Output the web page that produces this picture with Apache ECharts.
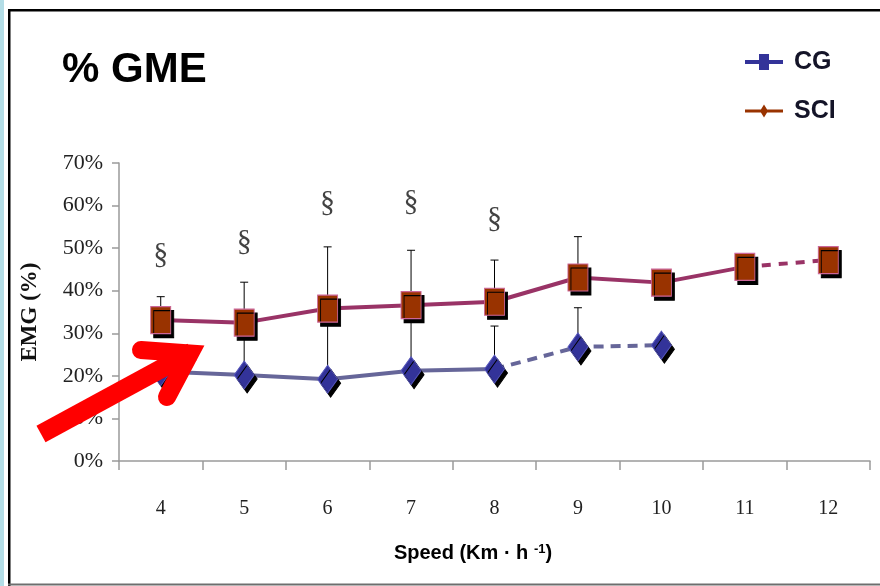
<!DOCTYPE html>
<html>
<head>
<meta charset="utf-8">
<script src="https://cdn.jsdelivr.net/npm/echarts@6/dist/echarts.min.js"></script>
<style>
html,body{margin:0;padding:0;background:#fff;}
#chart{width:880px;height:586px;}
</style>
</head>
<body>
<div id="chart"></div>
<script>
// ---- data ----
const speeds = ['4', '5', '6', '7', '8', '9', '10', '11', '12'];
const cgMean = [21.0, 20.2, 19.2, 21.2, 21.6, 26.8, 27.2, null, null];
const cgSdTop = [null, 31.0, 33.0, 34.0, 31.7, 36.0, null, null, null];
const sciMean = [33.1, 32.5, 35.8, 36.6, 37.4, 43.1, 41.9, 45.6, 47.2];
const sciSdTop = [38.6, 42.0, 50.3, 49.5, 47.2, 52.7, null, null, null];
const sigMarkY = [48.3, 51.5, 60.6, 60.9, 56.9, null, null, null, null];
const cgDashFrom = 4;   // index where CG line becomes dashed
const sciDashFrom = 7;  // index where SCI line becomes dashed

function solidPart(arr, from) { return arr.map((v, i) => i <= from ? v : null); }
function dashedPart(arr, from) { return arr.map((v, i) => i >= from ? v : null); }
function errData(mean, top) {
  const out = [];
  mean.forEach((m, i) => { if (m != null && top[i] != null) out.push([i, m, top[i]]); });
  return out;
}

const chart = echarts.init(document.getElementById('chart'), null, {renderer: 'canvas'});

const serif = 'Liberation Serif, Times New Roman, serif';
const sans = 'Liberation Sans, Arial, sans-serif';

function errRender(params, api) {
  const p0 = api.coord([api.value(0), api.value(1)]);
  const p1 = api.coord([api.value(0), api.value(2)]);
  const st = {stroke: '#000', lineWidth: 1};
  return {type: 'group', children: [
    {type: 'line', shape: {x1: p0[0], y1: p0[1], x2: p1[0], y2: p1[1]}, style: st},
    {type: 'line', shape: {x1: p1[0] - 4, y1: p1[1], x2: p1[0] + 4, y2: p1[1]}, style: st}
  ]};
}

const shadow = {opacity: 1, shadowColor: '#000', shadowBlur: 0, shadowOffsetX: 3, shadowOffsetY: 4};

const option = {
  backgroundColor: '#fff',
  animation: false,
  title: {
    text: '% GME', left: 57, top: 44,
    textStyle: {fontFamily: sans, fontSize: 42, fontWeight: 'bold', color: '#000'}
  },
  legend: {
    orient: 'vertical', left: 740, top: 44, itemWidth: 38, itemHeight: 18, itemGap: 23,
    selectedMode: false,
    data: [
      {name: 'CG', icon: 'path://M0,7H38V11H0Z M14,1H24V17H14Z', itemStyle: {color: '#333399', opacity: 1}},
      {name: 'SCI', icon: 'path://M0,8H38V11H0Z M19,3L23,9.5L19,16L15,9.5Z', itemStyle: {color: '#993300', opacity: 1}}
    ],
    textStyle: {fontFamily: sans, fontSize: 25, fontWeight: 'bold', color: '#141428', lineHeight: 26, padding: [0, 0, 0, 6]}
  },
  grid: {left: 119, right: 10, top: 163, bottom: 125, containLabel: false},
  xAxis: {
    type: 'category', data: speeds, boundaryGap: true,
    axisLine: {lineStyle: {color: '#9a9a9a', width: 1.5}},
    axisTick: {show: true, alignWithLabel: false, length: 9, lineStyle: {color: '#9a9a9a', width: 1.5}},
    axisLabel: {margin: 38, fontFamily: serif, fontSize: 20, color: '#222'},
    splitLine: {show: false}
  },
  yAxis: {
    type: 'value', min: 0, max: 70, interval: 10,
    name: 'EMG (%)', nameLocation: 'middle', nameGap: 77, nameRotate: 90,
    nameTextStyle: {fontFamily: serif, fontSize: 23, fontWeight: 'bold', color: '#111'},
    axisLine: {show: true, lineStyle: {color: '#9a9a9a', width: 1.5}},
    axisTick: {show: true, length: 7, lineStyle: {color: '#9a9a9a', width: 1.5}},
    axisLabel: {margin: 16, fontFamily: serif, fontSize: 22, color: '#222', formatter: '{value}%'},
    splitLine: {show: false}
  },
  graphic: [
    {type: 'rect', shape: {x: 0, y: 0, width: 4, height: 586}, style: {fill: '#b3dde6'}, z: 100},
    {type: 'rect', shape: {x: 8, y: 9, width: 2.5, height: 577}, style: {fill: '#000'}, z: 100},
    {type: 'rect', shape: {x: 8, y: 9, width: 872, height: 2.5}, style: {fill: '#000'}, z: 100},
    {type: 'rect', shape: {x: 8, y: 583.5, width: 872, height: 2}, style: {fill: '#6e6e6e'}, z: 100},
    {type: 'text', x: 473, y: 553, style: {
      text: 'Speed (Km · h {sup|-1})', align: 'center', verticalAlign: 'middle',
      fontFamily: sans, fontSize: 20, fontWeight: 'bold', fill: '#000',
      rich: {sup: {fontFamily: sans, fontSize: 13, fontWeight: 'bold', verticalAlign: 'top', padding: [0, 0, 8, 0], fill: '#000'}}
    }, z: 100},
    // red annotation arrow
    {type: 'polyline', shape: {points: [[41, 434], [192, 352]]},
      style: {stroke: '#ff0000', lineWidth: 19, lineCap: 'butt', fill: null}, z: 200},
    {type: 'polyline', shape: {points: [[141, 350], [190, 353.5], [167, 397]]},
      style: {stroke: '#ff0000', lineWidth: 18, lineCap: 'round', lineJoin: 'miter', miterLimit: 10, fill: null}, z: 200}
  ],
  series: [
    {name: 'errCG', type: 'custom', renderItem: errRender, data: errData(cgMean, cgSdTop), encode: {x: 0, y: [1, 2]}, z: 1, silent: true},
    {name: 'errSCI', type: 'custom', renderItem: errRender, data: errData(sciMean, sciSdTop), encode: {x: 0, y: [1, 2]}, z: 1, silent: true},
    {name: 'CG', type: 'line', data: solidPart(cgMean, cgDashFrom), showSymbol: false, connectNulls: false,
      lineStyle: {color: '#666699', width: 4}, itemStyle: {color: '#333399'}, z: 2},
    {name: 'CG', type: 'line', data: dashedPart(cgMean, cgDashFrom), showSymbol: false,
      lineStyle: {color: '#666699', width: 4, type: [10, 7]}, itemStyle: {color: '#333399'}, z: 2},
    {name: 'SCI', type: 'line', data: solidPart(sciMean, sciDashFrom), showSymbol: false,
      lineStyle: {color: '#993366', width: 4}, itemStyle: {color: '#993300'}, z: 2},
    {name: 'SCI', type: 'line', data: dashedPart(sciMean, sciDashFrom), showSymbol: false,
      lineStyle: {color: '#993366', width: 4, type: [9, 8]}, itemStyle: {color: '#993300'}, z: 2},
    {name: 'CG', type: 'scatter', data: cgMean, symbol: 'diamond', symbolSize: [20, 28],
      itemStyle: Object.assign({color: '#333399', borderColor: '#5555bb', borderWidth: 1}, shadow), z: 3},
    {name: 'SCI', type: 'scatter', data: sciMean, symbol: 'rect', symbolSize: [20, 27],
      itemStyle: Object.assign({color: '#993300', borderColor: '#cc6699', borderWidth: 1}, shadow), z: 3},
    {name: 'sig', type: 'scatter', data: sigMarkY, symbol: 'circle', symbolSize: 1,
      itemStyle: {color: 'rgba(0,0,0,0)'},
      label: {show: true, position: 'inside', formatter: '§', fontFamily: serif, fontSize: 30, color: '#111'}, z: 3}
  ]
};
chart.setOption(option);
</script>
</body>
</html>
